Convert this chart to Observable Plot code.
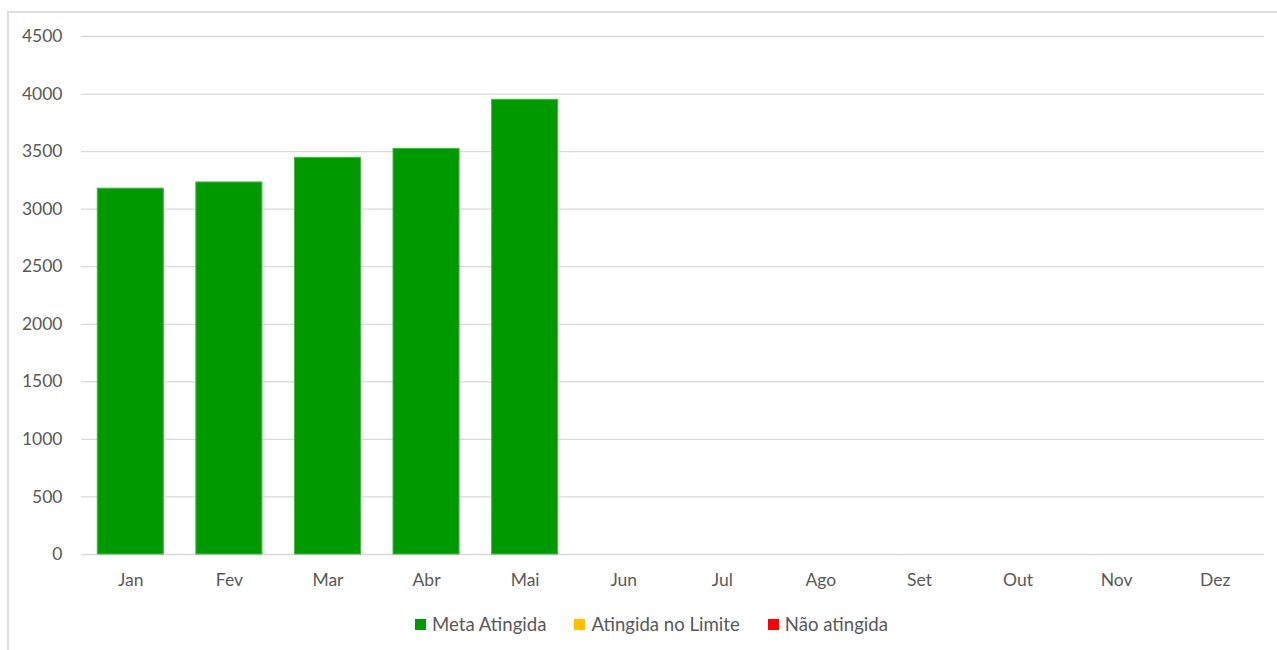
<!DOCTYPE html>
<html>
<head>
<meta charset="utf-8">
<script src="https://cdn.jsdelivr.net/npm/d3@7"></script>
<script src="https://cdn.jsdelivr.net/npm/@observablehq/plot@0.6"></script>
<style>
  html, body { margin: 0; padding: 0; background: #fff; overflow: hidden; }
  #frame { position: relative; width: 1277px; height: 650px; font-family: Lato, "Open Sans", sans-serif; }
  #border { position: absolute; left: 7px; top: 11px; width: 1300px; height: 660px; border: 2px solid #dedede; box-sizing: border-box; }
  #chart { position: absolute; left: 0; top: 0; }
  #legend { position: absolute; top: 613px; left: 13px; width: 1277px; display: flex; justify-content: center; font-size: 18.6px; color: #595959; }
  .item { display: flex; align-items: center; margin: 0 14px; }
  .sw { width: 11px; height: 11px; margin-right: 6px; }
</style>
</head>
<body>
<div id="frame">
  <div id="border"></div>
  <div id="chart"></div>
  <div id="legend"></div>
</div>
<script>
const months = ["Jan","Fev","Mar","Abr","Mai","Jun","Jul","Ago","Set","Out","Nov","Dez"];
const values = [3178, 3232, 3446, 3524, 3950, null, null, null, null, null, null, null];
const status = ["Meta Atingida","Meta Atingida","Meta Atingida","Meta Atingida","Meta Atingida", null, null, null, null, null, null, null];
const legendLabels = ["Meta Atingida", "Atingida no Limite", "Não atingida"];
const legendColors = ["#009900", "#FFC000", "#FF0000"];
const yTicks = [0, 500, 1000, 1500, 2000, 2500, 3000, 3500, 4000, 4500];

const data = months.map((m, i) => ({month: m, value: values[i], status: status[i]}));

const chart = Plot.plot({
  width: 1277,
  height: 600,
  marginTop: 36,
  marginBottom: 46,
  marginLeft: 81,
  marginRight: 13,
  style: {fontFamily: "Lato, 'Open Sans', sans-serif", fontSize: "17.5px", color: "#595959", background: "transparent"},
  x: {domain: months, paddingInner: 0.33, paddingOuter: 0.165, round: false, label: null},
  y: {domain: [0, 4500], label: null},
  color: {domain: legendLabels, range: legendColors},
  marks: [
    Plot.gridY(yTicks, {stroke: "#d9d9d9", strokeOpacity: 1, strokeWidth: 1.3}),
    Plot.barY(data.filter(d => d.value != null), {x: "month", y: "value", fill: "status", stroke: "#44b844", strokeWidth: 1, inset: 0}),
    Plot.axisY(yTicks, {tickSize: 0, tickPadding: 19, fontSize: 17.5, fill: "#595959", tickFormat: d => String(d)}),
    Plot.axisX({tickSize: 0, tickPadding: 19, fontSize: 17.5, fill: "#595959"})
  ]
});
document.getElementById("chart").appendChild(chart);

const legend = document.getElementById("legend");
legendLabels.forEach((l, i) => {
  const it = document.createElement("div");
  it.className = "item";
  const sw = document.createElement("div");
  sw.className = "sw";
  sw.style.background = legendColors[i];
  const t = document.createElement("span");
  t.textContent = l;
  it.appendChild(sw); it.appendChild(t);
  legend.appendChild(it);
});
</script>
</body>
</html>
